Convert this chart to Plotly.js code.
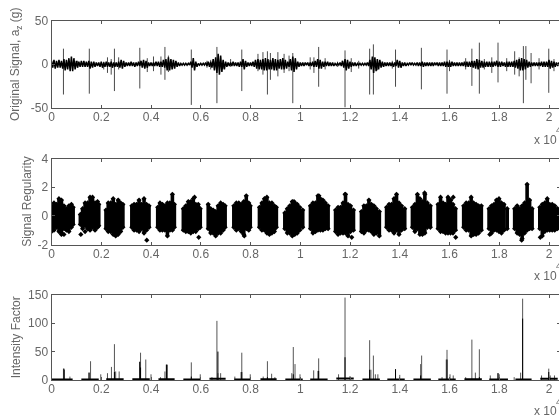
<!DOCTYPE html>
<html>
<head>
<meta charset="utf-8">
<script src="https://cdn.plot.ly/plotly-3.0.1.min.js"></script>
<style>html,body{margin:0;padding:0;background:#fff;overflow:hidden}#c{width:562px;height:416px;filter:blur(0.35px)}</style>
</head>
<body>
<div id="c"></div>
<script>
// ---- x axis ----
const xTickVals = [0,0.2,0.4,0.6,0.8,1,1.2,1.4,1.6,1.8,2];
const xTickText = ["0","0.2","0.4","0.6","0.8","1","1.2","1.4","1.6","1.8","2"];

// ---- Original signal: dense band, one up/down pair every 0.01 (x 10^4) ----
const bandStep = 0.01;
const bandUp = [
 4,5,4,5,4,6,5,7,9,7,4,3,4,4,3,4,3,3,2,2,
 3,2,3,2,3,2,2,3,5,4,2,2,3,2,2,3,4,5,4,2,
 2,2,3,3,3,5,6,8,6,5,4,2,1,1,1,1,3,7,3,1,
 1,1,2,3,3,6,8,12,10,5,3,2,2,3,2,2,3,6,4,2,
 2,3,5,6,5,6,7,6,5,7,6,5,6,7,5,3,6,9,7,3,
 2,2,2,2,2,3,4,6,5,3,3,3,2,2,1,1,2,4,6,5,
 3,2,2,1,1,1,1,2,5,9,8,6,5,3,2,2,2,2,2,5,
 4,2,2,1,2,2,1,2,2,3,2,2,2,2,2,2,2,2,3,3,
 3,3,2,2,2,2,3,3,3,4,4,6,5,4,3,3,3,3,3,4,
 3,3,2,3,3,3,4,5,6,7,6,5,3,2,2,2,2,3,3,3,
 5,4,3,2,2
];
const bandDown = [
 4,5,4,4,5,7,6,8,8,6,4,3,3,3,3,5,4,3,2,3,
 4,3,3,3,4,3,3,4,5,3,2,2,2,3,2,2,4,5,4,2,
 2,2,2,3,3,4,7,7,6,5,3,2,1,1,1,1,4,7,3,1,
 1,1,2,3,4,7,10,12,9,6,3,2,2,2,2,3,3,6,3,2,
 2,3,5,6,6,7,7,6,6,7,7,5,6,6,5,3,7,9,6,3,
 2,2,1,2,2,3,3,5,5,3,2,2,2,2,1,1,2,4,7,5,
 3,2,2,1,1,1,1,2,6,10,8,6,4,3,2,2,2,3,2,4,
 4,2,2,1,1,1,1,2,2,3,2,2,2,2,1,2,2,2,3,3,
 3,2,2,2,2,2,3,3,3,4,5,6,4,4,3,3,3,3,2,3,
 3,2,3,3,3,3,4,5,7,7,6,4,3,2,2,2,2,3,3,3,
 5,4,3,2,2
];
// ---- Original signal: individual spikes ----
const spikeX    = [0.048,0.152,0.253,0.355,0.456,0.562,0.665,0.765,0.868,0.97,1.074,1.18,1.279,1.294,1.383,1.487,1.59,1.69,1.72,1.795,1.862,1.897,1.907,1.928,1.999,
                   0.105,0.21,0.225,0.24,0.27,0.385,0.41,0.44,0.47,0.625,0.64,0.69,0.72,0.83,0.85,0.88,0.91,0.935,0.955,1.04,1.055,1.1,1.15,1.205,1.235,1.31,1.37,1.6,1.665,1.74,1.77,1.83,1.88,1.96,2.02];
const spikeUp   = [18,18,18,19,20,17,20,17,15,13,20,16,18,23,17,19,17,18,25,25,15,21,21,13,18,
                   4,3,8,6,8,7,9,9,10,4,5,4,6,12,14,13,14,12,10,8,8,7,3,7,4,6,4,5,7,6,8,7,8,7,6];
const spikeDown = [35,34,31,28,18,47,45,31,35,45,26,50,35,35,26,29,34,25,34,21,12,45,18,22,33,
                   4,6,10,12,6,9,8,12,9,4,6,5,3,8,12,18,14,10,8,6,10,6,3,9,5,7,5,8,6,6,10,8,14,6,8];

// ---- Signal regularity: blobs as columns [x], [top], [bottom] ----
const regX = [
 0,0.01,0.02,0.03,0.04,0.05,0.06,0.07,0.08,0.087,
 0.116,0.125,0.135,0.145,0.155,0.165,0.175,0.185,0.19,
 0.219,0.228,0.238,0.248,0.258,0.268,0.278,0.287,
 0.323,0.332,0.342,0.352,0.362,0.372,0.382,0.392,
 0.427,0.436,0.446,0.456,0.466,0.476,0.486,0.494,
 0.53,0.54,0.55,0.56,0.57,0.58,0.59,0.598,
 0.63,0.64,0.65,0.66,0.67,0.68,0.69,0.698,
 0.733,0.743,0.753,0.763,0.773,0.783,0.793,0.799,
 0.836,0.846,0.856,0.866,0.876,0.886,0.896,0.904,
 0.938,0.948,0.958,0.968,0.978,0.988,0.998,1.01,
 1.041,1.051,1.061,1.071,1.081,1.091,1.101,1.112,
 1.142,1.152,1.162,1.172,1.182,1.192,1.202,1.214,
 1.246,1.256,1.266,1.276,1.286,1.296,1.306,1.318,
 1.347,1.357,1.367,1.377,1.387,1.397,1.407,1.42,
 1.451,1.461,1.471,1.481,1.491,1.501,1.511,1.523,
 1.554,1.564,1.574,1.584,1.594,1.604,1.614,1.624,
 1.657,1.667,1.677,1.687,1.697,1.707,1.717,1.728,
 1.759,1.769,1.779,1.789,1.799,1.809,1.819,1.832,
 1.862,1.872,1.882,1.892,1.902,1.912,1.922,1.932,
 1.963,1.973,1.983,1.993,2.003,2.013,2.023,2.034
];
const regTop = [
 0.7,0.9,0.8,1.2,1.1,0.7,0.5,0.7,0.8,0.6,
 0.1,0.5,0.9,0.9,1.3,1.3,0.9,1.0,0.8,
 0.4,0.9,0.9,1.2,0.8,1.1,0.9,0.8,
 0.7,0.8,0.8,1.1,0.8,1.2,0.8,0.7,
 0.6,0.9,0.8,0.7,0.9,0.9,1.5,0.8,
 0.5,0.7,1.0,1.0,1.2,0.8,0.8,0.5,
 0.8,0.5,0.4,0.3,0.7,0.9,0.8,0.7,
 0.7,0.9,0.9,0.8,1.0,1.4,0.9,0.7,
 0.6,0.9,1.2,1.3,0.9,0.9,0.7,0.6,
 0.2,0.5,0.7,1.0,0.9,0.8,0.6,0.4,
 0.7,0.9,0.9,1.4,1.2,1.1,0.9,0.7,
 0.4,0.6,0.6,0.9,1.5,0.8,0.7,0.4,
 0.3,0.7,0.7,1.1,0.8,0.7,0.5,0.3,
 0.6,0.8,0.8,1.2,1.5,0.9,0.7,0.5,
 0.6,0.8,1.5,1.2,1.0,1.5,0.9,0.7,
 0.8,1.3,0.9,0.8,1.3,1.1,0.8,0.5,
 0.7,0.9,0.9,1.3,0.9,0.8,0.7,0.7,
 0.5,0.7,0.8,1.1,1.2,0.9,0.8,0.5,
 0.5,0.7,0.5,0.7,0.9,2.2,1.1,0.5,
 0.6,0.8,0.9,1.2,0.8,0.8,0.7,0.5
];
const regBottom = [
 -1.1,-1.0,-0.8,-1.1,-1.2,-0.9,-1.0,-1.1,-0.8,-0.6,
 -0.6,-0.9,-0.7,-0.9,-1.0,-0.8,-1.0,-0.8,-0.7,
 -0.9,-1.1,-1.1,-1.3,-1.4,-1.3,-1.1,-0.8,
 -0.8,-1.0,-1.0,-1.1,-0.9,-1.2,-1.0,-0.8,
 -0.8,-1.0,-1.0,-1.0,-1.4,-1.0,-1.0,-0.8,
 -1.0,-1.1,-1.1,-1.2,-1.1,-1.1,-0.9,-0.8,
 -0.9,-1.2,-1.2,-1.4,-1.2,-1.2,-1.0,-0.8,
 -0.8,-1.0,-0.9,-1.1,-1.3,-0.9,-1.0,-0.8,
 -0.8,-1.0,-1.0,-1.2,-1.3,-1.2,-1.1,-0.8,
 -0.9,-1.2,-1.2,-1.4,-1.3,-1.2,-1.0,-0.8,
 -0.9,-1.2,-1.1,-1.0,-1.0,-1.0,-0.9,-0.9,
 -1.1,-1.3,-1.2,-1.2,-1.2,-1.4,-1.1,-1.0,
 -1.1,-1.2,-1.0,-1.0,-1.1,-1.3,-1.2,-1.4,
 -0.8,-1.0,-1.0,-1.2,-1.0,-1.3,-1.0,-0.9,
 -0.8,-1.1,-0.9,-1.3,-1.3,-1.2,-0.8,-0.8,
 -0.9,-1.1,-1.1,-1.2,-1.2,-1.2,-1.2,-1.0,
 -0.8,-1.0,-1.0,-1.4,-1.3,-1.3,-1.2,-1.0,
 -0.9,-1.2,-1.0,-1.0,-1.1,-1.2,-1.0,-0.9,
 -0.9,-1.2,-1.3,-1.6,-1.2,-1.0,-0.9,-0.9,
 -0.9,-1.4,-1.1,-1.0,-1.0,-1.0,-1.0,-0.9
];
const regOutX = [0.04,0.05,0.118,0.135,0.383,0.592,0.575,0.775,0.975,1.075,1.18,1.207,1.625,1.762,1.89,1.965,1.615,1.605,1.5];
const regOutY = [-1.3,-1.3,-1.3,-1.1,-1.7,-1.5,1.3,-1.4,1.0,1.4,1.5,-1.5,-1.5,-1.3,-1.7,-1.5,1.3,1.1,1.6];

// ---- Intensity factor ----
const factorX = [0.048,0.052,0.074,0.151,0.157,0.198,0.225,0.241,0.253,0.258,0.272,0.355,0.358,0.379,0.4,0.438,0.456,0.462,0.466,0.562,0.598,0.645,0.665,0.669,0.68,0.737,0.762,0.765,0.799,0.851,0.868,0.885,0.898,
                 0.966,0.972,0.979,0.999,1.054,1.071,1.074,1.154,1.18,1.2,1.279,1.284,1.294,1.302,1.312,1.383,1.4,1.484,1.488,1.57,1.587,1.59,1.602,1.615,1.665,1.69,1.704,1.72,1.764,1.795,1.8,1.86,1.886,1.894,1.97,1.999,2.005,2.022];
const factorTall = [20,18,6,13,33,10,12,23,63,15,15,32,48,36,10,5,15,27,27,31,10,5,104,12,12,6,14,48,10,6,33,11,5,
                 12,58,28,10,17,16,38,10,145,7,70,18,43,10,10,19,9,28,43,5,36,53,10,8,5,71,13,54,8,12,10,5,13,143,8,20,8,8];
const factorCoreX = [0.05,0.151,0.253,0.355,0.358,0.462,0.562,0.669,0.765,0.868,0.972,1.074,1.18,1.279,1.383,1.484,1.59,1.72,1.795,1.894,1.999];
const factorCore  = [20,13,14,32,22,27,6,50,14,5,10,16,40,18,19,8,36,5,12,108,14];
const baseX0 = [0,0.12,0.22,0.325,0.43,0.53,0.635,0.735,0.84,0.94,1.04,1.145,1.25,1.35,1.455,1.555,1.66,1.76,1.865,1.965];
const baseX1 = [0.085,0.19,0.29,0.395,0.495,0.6,0.7,0.8,0.905,1.01,1.11,1.215,1.32,1.42,1.525,1.625,1.73,1.835,1.93,2.035];
const baseLevel = [2,2,3,3,3,2,4,2,3,2,2,5,2,2,2,2,3,2,2,4];

// ---- assemble traces from the arrays ----
const bx=[],by=[];
bandUp.forEach((u,i)=>{const x=i*bandStep;bx.push(x,x+bandStep/2);by.push(u,-bandDown[i]);});
const sx=[],sy=[];
spikeX.forEach((x,i)=>{sx.push(x,x,null);sy.push(spikeUp[i],-spikeDown[i],null);});
const rx=[],ry=[];
regX.forEach((x,i)=>{rx.push(x,x,null);ry.push(regTop[i],regBottom[i],null);});
const fx=[],fy=[];
factorX.forEach((x,i)=>{fx.push(x,x,null);fy.push(0,factorTall[i],null);});
const cx=[],cy=[];
factorCoreX.forEach((x,i)=>{cx.push(x,x,null);cy.push(0,factorCore[i],null);});
const lx=[],ly=[];
baseX0.forEach((x,i)=>{lx.push(x,baseX1[i],null);ly.push(baseLevel[i]/2,baseLevel[i]/2,null);});

const traces=[
 {x:sx,y:sy,xaxis:'x',yaxis:'y',mode:'lines',line:{color:'#4a4a4a',width:1},hoverinfo:'skip',connectgaps:false},
 {x:bx,y:by,xaxis:'x',yaxis:'y',mode:'lines',line:{color:'#000',width:1.5},hoverinfo:'skip'},
 {x:rx,y:ry,xaxis:'x2',yaxis:'y2',mode:'lines+markers',line:{color:'#000',width:3.6},marker:{color:'#000',size:4,symbol:'diamond'},hoverinfo:'skip'},
 {x:regOutX,y:regOutY,xaxis:'x2',yaxis:'y2',mode:'markers',marker:{color:'#000',size:4,symbol:'diamond'},hoverinfo:'skip'},
 {x:fx,y:fy,xaxis:'x3',yaxis:'y3',mode:'lines',line:{color:'#555',width:1},hoverinfo:'skip'},
 {x:cx,y:cy,xaxis:'x3',yaxis:'y3',mode:'lines',line:{color:'#000',width:1},hoverinfo:'skip'},
 {x:lx,y:ly,xaxis:'x3',yaxis:'y3',mode:'lines',line:{color:'#000',width:2},hoverinfo:'skip'}
];

const W=562,H=416,left=51.5,right=560;
const xMax=(right-left)/248.75;
const font={family:'"Liberation Sans",Arial,sans-serif',size:12,color:'#666'};
const axisCommon={showgrid:false,zeroline:false,showline:true,linecolor:'#555',linewidth:1,mirror:'ticks',ticks:'inside',ticklen:3,tickcolor:'#555',tickwidth:1,tickfont:font};
const xa=(anchor)=>Object.assign({},axisCommon,{domain:[left/W,right/W],range:[0,xMax],tickmode:'array',tickvals:xTickVals,ticktext:xTickText,anchor,ticklabelstandoff:-2});
const ya=(anchor,top,bot,range,vals,title,standoff)=>Object.assign({},axisCommon,{anchor,domain:[(H-bot)/H,(H-top)/H],range,tickmode:'array',tickvals:vals,ticktext:vals.map(String),title:{text:title,font:font,standoff}});

const layout={
 width:W,height:H,margin:{l:0,r:0,t:0,b:0},paper_bgcolor:'#fff',plot_bgcolor:'#fff',showlegend:false,font,
 xaxis:xa('y'),xaxis2:xa('y2'),xaxis3:xa('y3'),
 yaxis:ya('x',21,107.5,[-50,50],[-50,0,50],'Original Signal, a<sub>z</sub> (g)',8),
 yaxis2:ya('x2',158.5,244.5,[-2,4],[-2,0,2,4],'Signal Regularity',3),
 yaxis3:ya('x3',294.7,380,[0,150],[0,50,100,150],'Intensity Factor',4),
 annotations:[[140,130],[276,266],[411,402]].map(p=>[
  {xref:'paper',yref:'paper',x:545.5/W,y:1-p[0]/H,text:'x 10',showarrow:false,font,xanchor:'center',yanchor:'middle'},
  {xref:'paper',yref:'paper',x:558/W,y:1-p[1]/H,text:'4',showarrow:false,font:Object.assign({},font,{size:9}),xanchor:'center',yanchor:'middle'}
 ]).flat()
};
Plotly.newPlot('c',traces,layout,{displayModeBar:false,staticPlot:true});
</script>
</body>
</html>
